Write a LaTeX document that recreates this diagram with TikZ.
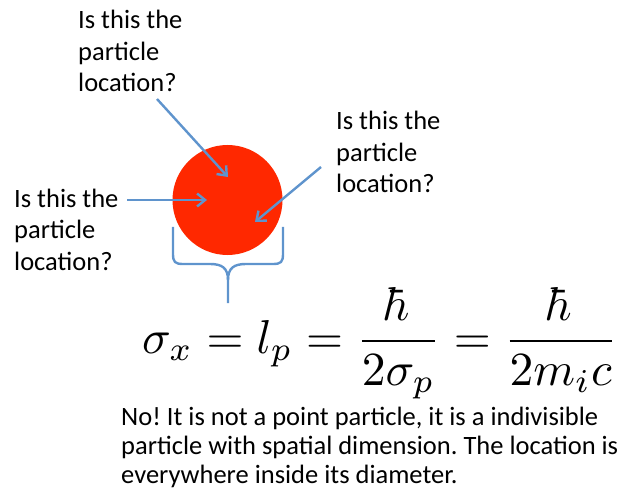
\documentclass[tikz,border=0pt]{standalone}
\usepackage{amsmath}
\usepackage{graphicx}
\usepackage{fontspec}
\setmainfont{Carlito}
\usetikzlibrary{arrows.meta}
\definecolor{arrowblue}{RGB}{95,148,205}
\definecolor{ballred}{RGB}{255,40,0}
\tikzset{
  label/.style={anchor=base west, inner sep=0pt, align=left,
    font=\fontsize{26.5}{31.5}\selectfont},
  noteline/.style={anchor=base west, inner sep=0pt,
    font=\fontsize{26.5}{29}\selectfont},
  pointer/.style={draw=arrowblue, line width=2.4pt,
    -{Straight Barb[length=8pt,width=13pt,line width=2.4pt]}},
  bracestyle/.style={draw=arrowblue, line width=2.4pt, line cap=butt}
}
\frenchspacing
\begin{document}
\begin{tikzpicture}[x=1pt,y=-1pt]
\useasboundingbox (0,0) rectangle (621,497);
% particle
\node[circle, fill=ballred, minimum size=110pt, inner sep=0pt] (ball) at (227.5,200) {};
% labels (anchored at the baseline of their last line)
\node[label] (ltop) at (78,92) {Is this the\\particle\\location?};
\node[label] (lleft) at (14,270) {Is this the\\particle\\location?};
\node[label] (lright) at (336,193) {Is this the\\particle\\location?};
% arrow ends
\coordinate (s1) at (157,99);  \coordinate (e1) at (228,177);
\coordinate (s2) at (127,200); \coordinate (e2) at (207,200);
\coordinate (s3) at (321,167); \coordinate (e3) at (255,222);
\draw[pointer] (s1) -- (e1);
\draw[pointer] (s2) -- (e2);
\draw[pointer] (s3) -- (e3);
% brace
\coordinate (bl) at (173,227);
\coordinate (br) at (283,227);
\coordinate (btip) at (228,303);
\draw[bracestyle] (bl) -- (173,254) .. controls (173,262) and (175,264) .. (183,264)
  -- (210,264) .. controls (222,264) and (228,268) .. (228,280) -- (btip);
\draw[bracestyle] (br) -- (283,254) .. controls (283,262) and (281,264) .. (273,264)
  -- (246,264) .. controls (234,264) and (228,268) .. (228,280);
% equation
\node[anchor=base west, inner sep=0pt] (eq) at (142,353)
  {\resizebox{475pt}{!}{$\displaystyle \sigma_x = l_p = \frac{\hbar}{2\sigma_p} = \frac{\hbar}{2m_ic}$}};
% bottom text
\node[noteline] (note1) at (121,425) {No! It is not a point particle, it is a indivisible};
\node[noteline] (note2) at (121,454) {particle with spatial dimension. The location is};
\node[noteline] (note3) at (121,483) {everywhere inside its diameter.};
\end{tikzpicture}
\end{document}
